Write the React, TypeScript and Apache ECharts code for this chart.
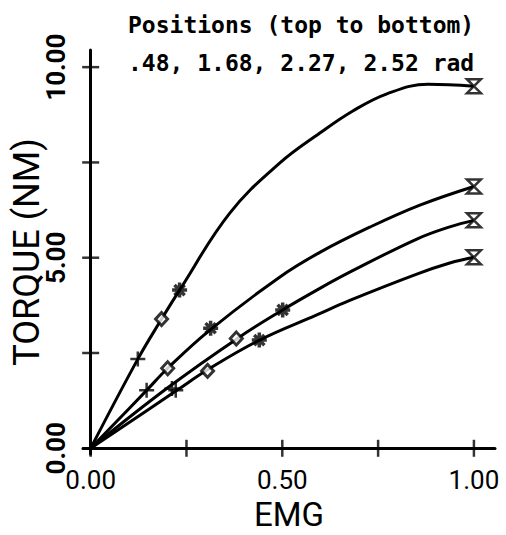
import React, { useEffect, useRef } from "react";
import * as echarts from "echarts";

// Axis ticks and labels
const xTicks = [0, 0.25, 0.5, 0.75, 1.0];
const yTicks = [0, 2.5, 5, 7.5, 10];
const xLabelValues = [0, 0.5, 1.0];
const yLabelValues = [0, 5, 10];

// Marker types (per curve, in order)
const markerKinds = ["plus", "diamond", "star", "hourglass"];

// Curve 1: .48 rad
const c1LineX = [0, 0.123, 0.185, 0.232, 0.363, 0.493, 0.598, 0.684, 0.773, 0.88, 1.0];
const c1LineY = [0, 2.34, 3.39, 4.15, 6.17, 7.48, 8.27, 8.85, 9.3, 9.55, 9.5];
const c1MarkX = [0.123, 0.185, 0.232, 1.0];
const c1MarkY = [2.34, 3.39, 4.15, 9.5];

// Curve 2: 1.68 rad
const c2LineX = [0, 0.146, 0.201, 0.311, 0.493, 0.598, 0.728, 0.859, 1.0];
const c2LineY = [0, 1.52, 2.1, 3.1, 4.49, 5.14, 5.8, 6.38, 6.87];
const c2MarkX = [0.146, 0.201, 0.313, 1.0];
const c2MarkY = [1.52, 2.1, 3.15, 6.87];

// Curve 3: 2.27 rad
const c3LineX = [0, 0.2, 0.384, 0.501, 0.59, 0.676, 0.851, 0.937, 1.0];
const c3LineY = [0, 1.58, 2.89, 3.63, 4.15, 4.62, 5.49, 5.81, 5.98];
const c3MarkX = [0.212, 0.38, 0.501, 1.0];
const c3MarkY = [1.57, 2.88, 3.63, 5.98];

// Curve 4: 2.52 rad
const c4LineX = [0, 0.225, 0.305, 0.441, 0.59, 0.676, 0.851, 0.937, 1.0];
const c4LineY = [0, 1.52, 2.06, 2.84, 3.5, 3.88, 4.57, 4.86, 5.01];
const c4MarkX = [0.222, 0.305, 0.44, 1.0];
const c4MarkY = [1.52, 2.03, 2.84, 5.01];

const titleLines = ["Positions (top to bottom)", ".48, 1.68, 2.27, 2.52 rad"];

const SYMBOLS: Record<string, any> = {
  plus: { symbol: "path://M0,5L10,5M5,0L5,10", size: 15, color: "none", bw: 2.5 },
  diamond: { symbol: "diamond", size: [12, 13], color: "#fff", bw: 3 },
  star: {
    symbol: "path://M0,5L10,5M5,0L5,10M1.6,1.6L8.4,8.4M8.4,1.6L1.6,8.4",
    size: 15,
    color: "none",
    bw: 3.5,
  },
  hourglass: { symbol: "path://M0,0L10,0L0,10L10,10Z", size: 14, color: "#fff", bw: 2.5 },
};

const zip = (xs: number[], ys: number[]) => xs.map((x, i) => [x, ys[i]]);

const LABEL_FONT = "Roboto, 'Liberation Sans', sans-serif";

export default function App() {
  const ref = useRef<HTMLDivElement>(null);

  useEffect(() => {
    if (!ref.current) return;
    const chart = echarts.init(ref.current, null, { renderer: "svg" });

    const curves = [
      [c1LineX, c1LineY, c1MarkX, c1MarkY],
      [c2LineX, c2LineY, c2MarkX, c2MarkY],
      [c3LineX, c3LineY, c3MarkX, c3MarkY],
      [c4LineX, c4LineY, c4MarkX, c4MarkY],
    ];

    const series: any[] = [];
    curves.forEach(([lx, ly], i) => {
      series.push({
        type: "line",
        name: "curve" + (i + 1),
        data: zip(lx, ly),
        smooth: 0.4,
        showSymbol: false,
        lineStyle: { color: "#000", width: 3 },
        z: 2,
        silent: true,
      });
    });
    curves.forEach(([, , mx, my], i) => {
      series.push({
        type: "scatter",
        name: "markers" + (i + 1),
        z: 5,
        silent: true,
        data: mx.map((x, j) => {
          const s = SYMBOLS[markerKinds[j]];
          return {
            value: [x, my[j]],
            symbol: s.symbol,
            symbolSize: s.size,
            itemStyle: { color: s.color, borderColor: "#000", borderWidth: s.bw },
          };
        }),
      });
    });
    // Cross-shaped axis tick marks
    series.push({
      type: "scatter",
      name: "xticks",
      silent: true,
      z: 3,
      symbol: "rect",
      symbolSize: [2.5, 17],
      itemStyle: { color: "#000" },
      data: xTicks.map((v) => [v, 0]),
    });
    series.push({
      type: "scatter",
      name: "yticks",
      silent: true,
      z: 3,
      symbol: "rect",
      symbolSize: [17, 2.5],
      itemStyle: { color: "#000" },
      data: yTicks.map((v) => [0, v]),
    });

    chart.setOption({
      animation: false,
      backgroundColor: "#fff",
      title: {
        text: titleLines.join("\n"),
        left: 128,
        top: 6,
        padding: 0,
        textStyle: {
          fontFamily: "'DejaVu Sans Mono', monospace",
          fontWeight: "bold",
          fontSize: 23,
          lineHeight: 38,
          color: "#000",
        },
      },
      grid: {
        left: 83,
        top: 50,
        width: 412,
        height: 404,
        containLabel: false,
        outerBoundsMode: "none",
      },
      xAxis: {
        type: "value",
        min: -0.02,
        max: 1.055,
        name: "EMG",
        nameLocation: "middle",
        nameMoveOverlap: false,
        nameGap: 44,
        nameTextStyle: { fontFamily: LABEL_FONT, fontSize: 33, lineHeight: 33, color: "#000" },
        axisLine: { show: true, onZero: true, lineStyle: { color: "#000", width: 3 } },
        axisTick: { show: false },
        splitLine: { show: false },
        axisLabel: {
          customValues: xLabelValues,
          formatter: (v: number) => v.toFixed(2),
          fontFamily: LABEL_FONT,
          fontSize: 26,
          lineHeight: 26,
          color: "#000",
          margin: 13,
        },
      },
      yAxis: {
        type: "value",
        min: -0.15,
        max: 10.45,
        name: "TORQUE (NM)",
        nameLocation: "middle",
        nameMoveOverlap: false,
        nameGap: 38,
        nameTextStyle: { fontFamily: LABEL_FONT, fontSize: 36, color: "#000" },
        axisLine: { show: true, onZero: true, lineStyle: { color: "#000", width: 3 } },
        axisTick: { show: false },
        splitLine: { show: false },
        axisLabel: {
          customValues: yLabelValues,
          formatter: (v: number) => v.toFixed(2),
          rotate: 90,
          fontFamily: LABEL_FONT,
          fontSize: 26,
          fontWeight: "bold",
          color: "#000",
          margin: 14,
        },
      },
      series,
    });

    return () => chart.dispose();
  }, []);

  return (
    <div
      ref={ref}
      style={{ position: "absolute", left: 0, top: 0, width: 506, height: 535 }}
    />
  );
}
